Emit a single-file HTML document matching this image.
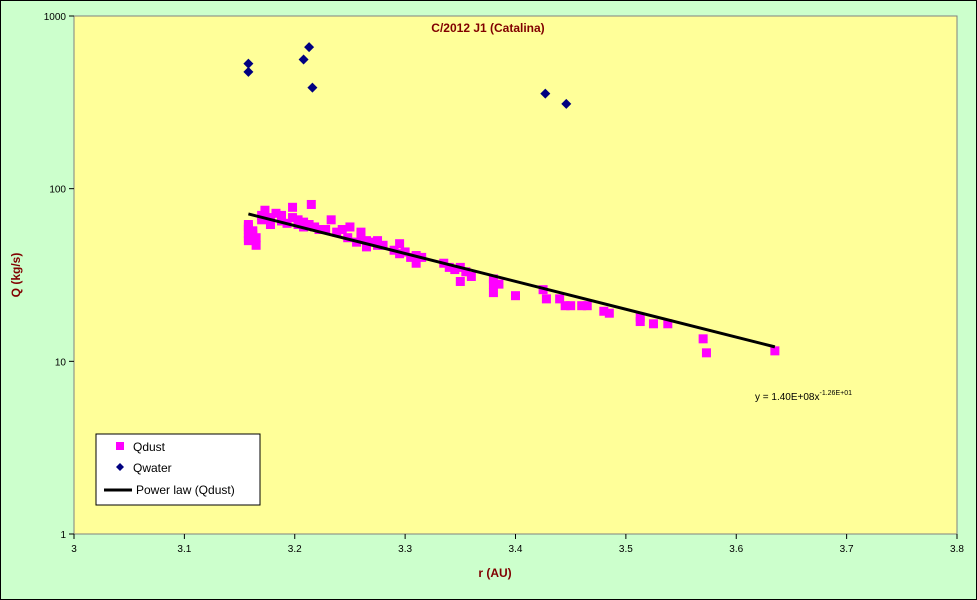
<!DOCTYPE html>
<html><head><meta charset="utf-8"><style>
html,body{margin:0;padding:0;background:#ccffcc;}
svg{display:block;font-family:"Liberation Sans",Arial,sans-serif;}
</style></head><body>
<svg id="chart" width="977" height="600" viewBox="0 0 977 600">
<rect x="0.5" y="0.5" width="976" height="599" fill="#ccffcc" stroke="#000"/>
<rect x="74" y="16" width="883" height="518" fill="#ffff99" stroke="#808080"/>
<text x="488" y="32" text-anchor="middle" font-size="12" font-weight="bold" fill="#800000">C/2012 J1 (Catalina)</text>
<text x="495" y="577" text-anchor="middle" font-size="12" font-weight="bold" fill="#800000">r (AU)</text>
<text x="0" y="0" transform="translate(20,275) rotate(-90)" text-anchor="middle" font-size="12" font-weight="bold" fill="#800000">Q (kg/s)</text>
<g id="axes"></g>
<g id="marks"></g>
<text x="755" y="400" font-size="10" fill="#000">y = 1.40E+08x<tspan dy="-5" font-size="7">-1.26E+01</tspan></text>
<g>
<rect x="96" y="434" width="164" height="71" fill="#fff" stroke="#000"/>
<rect x="116" y="442" width="8" height="8" fill="#ff00ff"/>
<text x="133" y="451" font-size="12">Qdust</text>
<path d="M120,463 l4,4 l-4,4 l-4,-4z" fill="#000080"/>
<text x="133" y="472" font-size="12">Qwater</text>
<line x1="104" y1="490" x2="132" y2="490" stroke="#000" stroke-width="3"/>
<text x="136" y="494" font-size="12">Power law (Qdust)</text>
</g>
</svg>
<script>
const xTicks=[3,3.1,3.2,3.3,3.4,3.5,3.6,3.7,3.8];
const xTickLabels=["3","3.1","3.2","3.3","3.4","3.5","3.6","3.7","3.8"];
const yTicks=[1,10,100,1000];
const yTickLabels=["1","10","100","1000"];
const dustR=[3.158,3.158,3.158,3.158,3.158,3.158,3.162,3.162,3.165,3.165,3.17,3.17,3.173,3.178,3.178,3.183,3.188,3.188,3.193,3.198,3.198,3.203,3.203,3.208,3.208,3.213,3.215,3.218,3.222,3.228,3.233,3.238,3.243,3.248,3.25,3.256,3.26,3.26,3.265,3.265,3.27,3.275,3.275,3.28,3.29,3.295,3.295,3.3,3.305,3.31,3.31,3.315,3.335,3.34,3.345,3.35,3.35,3.355,3.36,3.38,3.38,3.38,3.385,3.4,3.425,3.428,3.44,3.445,3.45,3.46,3.465,3.48,3.485,3.513,3.513,3.525,3.538,3.57,3.573,3.635];
const dustQ=[62,58,55,52,50,60,57,54,47,52,66,70,75,62,68,72,70,65,63,78,68,66,62,64,60,62,81,60,58,58,66,56,58,52,60,49,56,52,46,50,49,50,47,47,44,48,42,43,40,37,41,40,37,35,34,29,35,33,31,30,28,25,28,24,26,23,23,21,21,21,21,19.5,19,18,17,16.5,16.5,13.5,11.2,11.5];
const waterR=[3.158,3.158,3.208,3.213,3.216,3.427,3.446];
const waterQ=[530,475,560,660,385,355,310];
const fitA=1.40e8, fitB=-12.6, fitR=[3.158,3.635];
const NS="http://www.w3.org/2000/svg";
const X0=74,X1=957,Y0=534,Y1=16;
function sx(r){return X0+(r-3)/(0.8)*(X1-X0);}
function sy(q){return Y0-Math.log10(q)/3*(Y0-Y1);}
function mk(tag,attrs,parent){const e=document.createElementNS(NS,tag);for(const k in attrs)e.setAttribute(k,attrs[k]);parent.appendChild(e);return e;}
const axes=document.getElementById('axes'),marks=document.getElementById('marks');
xTicks.forEach((t,i)=>{
 const l=mk('line',{x1:sx(t),x2:sx(t),y1:Y0,y2:Y0+5,stroke:'#000'},axes);
 
 
 const tx=mk('text',{x:sx(t),y:Y0+18,'text-anchor':'middle','font-size':'10'},axes);
 tx.textContent=xTickLabels[i];
 
 
});
yTicks.forEach((t,i)=>{
 const l=mk('line',{x1:X0-5,x2:X0,y1:sy(t),y2:sy(t),stroke:'#000'},axes);
 
 
 const tx=mk('text',{x:X0-8,y:sy(t)+4,'text-anchor':'end','font-size':'10'},axes);
 tx.textContent=yTickLabels[i];
 
 
});
dustR.forEach((r,i)=>{
 const e=mk('rect',{x:sx(r)-4.5,y:sy(dustQ[i])-4.5,width:9,height:9,fill:'#ff00ff'},marks);
 
 
});
waterR.forEach((r,i)=>{
 const cx=sx(r),cy=sy(waterQ[i]);
 const e=mk('path',{d:`M${cx},${cy-5} l5,5 l-5,5 l-5,-5z`,fill:'#000080'},marks);
 
 
});
const q0=fitA*Math.pow(fitR[0],fitB),q1=fitA*Math.pow(fitR[1],fitB);
const fl=mk('line',{x1:sx(fitR[0]),y1:sy(q0),x2:sx(fitR[1]),y2:sy(q1),stroke:'#000','stroke-width':3},marks);


</script>
</body></html>
